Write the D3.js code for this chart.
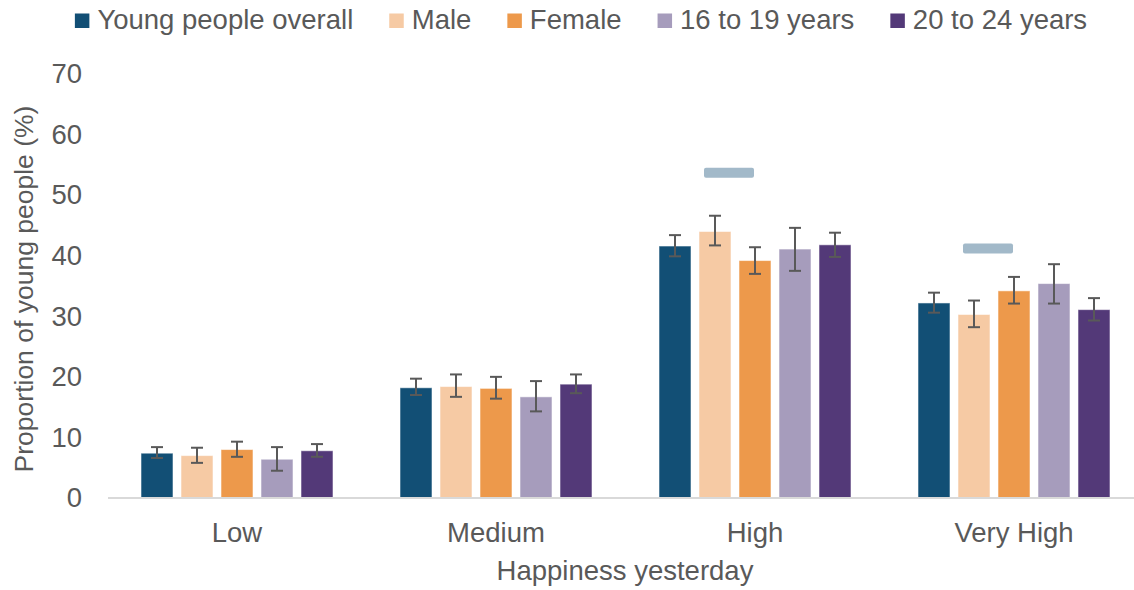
<!DOCTYPE html>
<html>
<head>
<meta charset="utf-8">
<script src="https://cdn.jsdelivr.net/npm/d3@7"></script>
<style>
  html, body { margin: 0; padding: 0; background: #fff; }
  svg { display: block; font-family: "Liberation Sans", Arial, sans-serif; }
</style>
</head>
<body>
<svg id="chart" width="1134" height="590"></svg>
<script>
// ---- data ----
const categories = ["Low", "Medium", "High", "Very High"];
const seriesNames = ["Young people overall", "Male", "Female", "16 to 19 years", "20 to 24 years"];
const seriesColors = ["#124f75", "#f6caa4", "#ed994b", "#a69cbc", "#533978"];

const overallValues = [7.4, 18.2, 41.6, 32.2];
const overallLower  = [6.6, 17.0, 39.9, 30.6];
const overallUpper  = [8.4, 19.7, 43.4, 33.9];

const maleValues = [7.0, 18.4, 44.0, 30.3];
const maleLower  = [5.8, 16.7, 41.7, 28.2];
const maleUpper  = [8.3, 20.4, 46.6, 32.6];

const femaleValues = [8.0, 18.1, 39.2, 34.2];
const femaleLower  = [6.8, 16.4, 37.0, 32.1];
const femaleUpper  = [9.3, 20.0, 41.4, 36.5];

const age16to19Values = [6.4, 16.7, 41.1, 35.4];
const age16to19Lower  = [4.5, 14.3, 37.5, 32.1];
const age16to19Upper  = [8.4, 19.3, 44.6, 38.6];

const age20to24Values = [7.8, 18.8, 41.8, 31.1];
const age20to24Lower  = [6.8, 17.3, 39.8, 29.3];
const age20to24Upper  = [8.9, 20.4, 43.8, 33.0];

const comparisonMarker = [null, null, 53.7, 41.2];

const yTicks = [0, 10, 20, 30, 40, 50, 60, 70];
const xAxisTitle = "Happiness yesterday";
const yAxisTitle = "Proportion of young people (%)";

// ---- build table ----
const valueSets = [overallValues, maleValues, femaleValues, age16to19Values, age20to24Values];
const lowerSets = [overallLower, maleLower, femaleLower, age16to19Lower, age20to24Lower];
const upperSets = [overallUpper, maleUpper, femaleUpper, age16to19Upper, age20to24Upper];

const rows = [];
categories.forEach((c, ci) => {
  seriesNames.forEach((s, si) => {
    rows.push({ cat: c, series: s, value: valueSets[si][ci], lo: lowerSets[si][ci], hi: upperSets[si][ci], color: seriesColors[si] });
  });
});

// ---- layout ----
const svg = d3.select("#chart");
const textColor = "#595959";
const fontSize = 27.5;

const x0 = d3.scaleBand().domain(categories).range([107.5, 1143.5]).paddingInner(0.2278).paddingOuter(0.1139);
const x1 = d3.scaleBand().domain(seriesNames).range([0, x0.bandwidth()]).paddingInner(0.2).paddingOuter(0.1);
const y = d3.scaleLinear().domain([0, 70]).range([498, 74]);

// y tick labels
const yAxis = d3.axisLeft(y).tickValues(yTicks).tickSize(0).tickPadding(0);
const yg = svg.append("g").attr("transform", "translate(82,0)").call(yAxis);
yg.select(".domain").remove();
yg.selectAll("text").attr("fill", textColor).style("font-size", fontSize + "px")
  .style("font-family", '"Liberation Sans", Arial, sans-serif');

// bars
svg.append("g").selectAll("rect").data(rows).join("rect")
  .attr("x", d => x0(d.cat) + x1(d.series))
  .attr("y", d => y(d.value))
  .attr("width", x1.bandwidth())
  .attr("height", d => y(0) - y(d.value))
  .attr("fill", d => d.color)
  .attr("stroke", "#ffffff").attr("stroke-opacity", 0.55).attr("stroke-width", 1);

// baseline
svg.append("line").attr("x1", 108).attr("x2", 1134).attr("y1", y(0)).attr("y2", y(0))
  .attr("stroke", "#d9d9d9").attr("stroke-width", 2);

// error bars
const eg = svg.append("g").attr("stroke", "#595959").attr("stroke-width", 2).attr("fill", "none");
const capHalf = 6;
rows.forEach(d => {
  const cx = x0(d.cat) + x1(d.series) + x1.bandwidth() / 2;
  eg.append("line").attr("x1", cx).attr("x2", cx).attr("y1", y(d.lo)).attr("y2", y(d.hi));
  eg.append("line").attr("x1", cx - capHalf).attr("x2", cx + capHalf).attr("y1", y(d.hi)).attr("y2", y(d.hi));
  eg.append("line").attr("x1", cx - capHalf).attr("x2", cx + capHalf).attr("y1", y(d.lo)).attr("y2", y(d.lo));
});

// comparison markers
svg.append("g").selectAll("rect")
  .data(categories.map((c, i) => ({ cat: c, v: comparisonMarker[i] })).filter(d => d.v != null))
  .join("rect")
  .attr("x", d => x0(d.cat) + x0.bandwidth() / 2 - 26 - 25)
  .attr("y", d => y(d.v) - 5)
  .attr("width", 50).attr("height", 10).attr("rx", 2)
  .attr("fill", "#a2b9c9");

// x category labels
const xAxis = d3.axisBottom(x0).tickSize(0).tickPadding(0);
const xg = svg.append("g").attr("transform", "translate(0,498)").call(xAxis);
xg.select(".domain").remove();
xg.selectAll("text").attr("fill", textColor).style("font-size", fontSize + "px")
  .style("font-family", '"Liberation Sans", Arial, sans-serif')
  .attr("dy", null).attr("y", 43.5);

// axis titles
svg.append("text").attr("x", 625).attr("y", 580).attr("text-anchor", "middle")
  .attr("fill", textColor).style("font-size", fontSize + "px").text(xAxisTitle);
svg.append("text").attr("transform", "translate(33,289) rotate(-90)").attr("text-anchor", "middle")
  .attr("fill", textColor).style("font-size", "26.5px").text(yAxisTitle);

// legend
const lg = svg.append("g");
const sq = 14.5, gapText = 8, gapItem = 36;
let lx = 0;
const items = seriesNames.map((s, i) => {
  const g = lg.append("g");
  g.append("rect").attr("x", 0).attr("y", 13.5).attr("width", sq).attr("height", sq).attr("fill", seriesColors[i]);
  const t = g.append("text").attr("x", sq + gapText).attr("y", 29).attr("fill", textColor)
    .style("font-size", fontSize + "px").text(s);
  const w = sq + gapText + t.node().getComputedTextLength();
  g.attr("transform", `translate(${lx},0)`);
  lx += w + gapItem;
  return g;
});
const totalW = lx - gapItem;
lg.attr("transform", `translate(${581 - totalW / 2},0)`);
</script>
</body>
</html>
